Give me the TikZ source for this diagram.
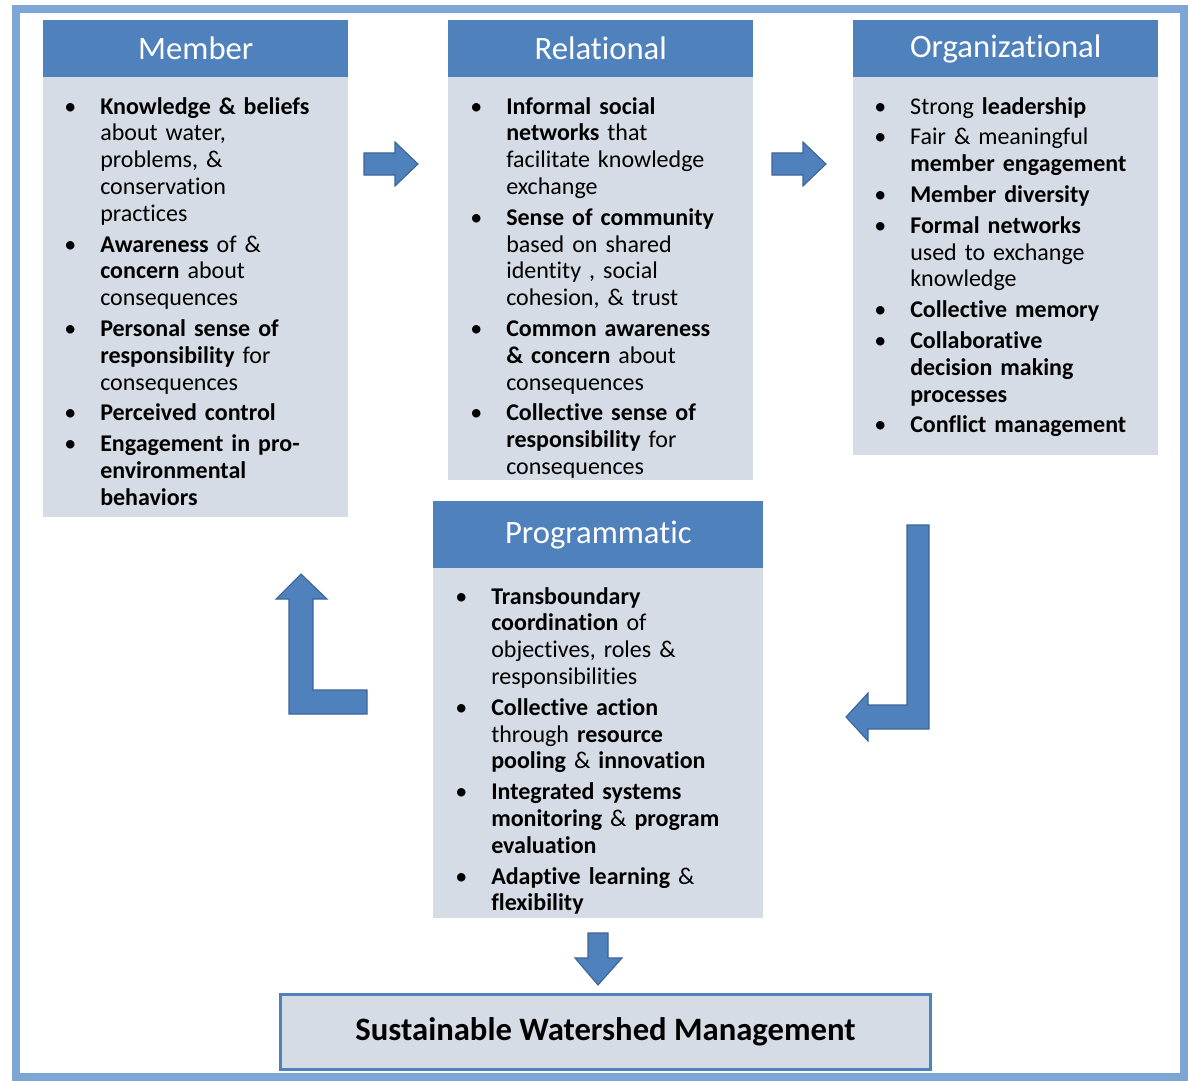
\documentclass[tikz,border=0pt]{standalone}
\usepackage{fontspec}
\setmainfont{Carlito}[Ligatures=NoCommon]
\usepackage{xcolor}
\definecolor{headblue}{RGB}{79,129,189}
\definecolor{bodygray}{RGB}{214,220,229}
\definecolor{frameblue}{RGB}{125,166,212}
\definecolor{edgeblue}{RGB}{60,100,150}
\newcommand{\bitem}{\par\noindent\hangindent=27pt\hangafter=1\makebox[27pt][l]{\textbullet}}
\newcommand{\nl}{\newline}

\begin{document}
\begin{tikzpicture}[x=0.75pt,y=-0.75pt,
  head/.style={fill=headblue, text=white, anchor=north west, inner sep=0pt,
    font=\fontsize{24.5}{28}\selectfont},
  body/.style={fill=bodygray, anchor=north west, inner sep=0pt},
  list/.style={anchor=north west, inner sep=0pt, text width=215pt, align=left,
    font=\fontsize{18}{20.1}\selectfont\setlength{\parskip}{3pt}},
  blockarrow/.style={fill=headblue, draw=edgeblue, line width=0.8pt}]
\useasboundingbox (0,0) rectangle (1190,1081);
\draw[frameblue, line width=6pt] (16,9) rectangle (1184,1077);

 \begin{scope}[every node/.style={head, minimum width=305*0.75pt, minimum height=57*0.75pt}]
  \node (memhead) at (43,20) {Member};
  \node (relhead) at (448,20) {Relational};
  \node (orghead) at (853,20) {Organizational};
 \end{scope}
  \node[head, minimum width=330*0.75pt, minimum height=67*0.75pt] (proghead) at (433,501) {Programmatic};
 \begin{scope}[every node/.style={body, minimum width=305*0.75pt}]
  \node[minimum height=440*0.75pt] (mem) at (43,77) {};
  \node[minimum height=403*0.75pt] (rel) at (448,77) {};
  \node[minimum height=378*0.75pt] (org) at (853,77) {};
 \end{scope}
  \node[body, minimum width=330*0.75pt, minimum height=350*0.75pt] (prog) at (433,568) {};

  \node[list] (memtxt) at ([shift={(21,6)}]mem.north west) {%
    \bitem\textbf{Knowledge \& beliefs}\nl about water,\nl problems, \&\nl conservation\nl practices
    \bitem\textbf{Awareness} of \&\nl\textbf{concern} about\nl consequences
    \bitem\textbf{Personal sense of}\nl\textbf{responsibility} for\nl consequences
    \bitem\textbf{Perceived control}
    \bitem\textbf{Engagement in pro-}\nl\textbf{environmental}\nl\textbf{behaviors}\par};
  \node[list] (reltxt) at ([shift={(22,6)}]rel.north west) {%
    \bitem\textbf{Informal social}\nl\textbf{networks} that\nl facilitate knowledge\nl exchange
    \bitem\textbf{Sense of community}\nl based on shared\nl identity , social\nl cohesion, \& trust
    \bitem\textbf{Common awareness}\nl\textbf{\& concern} about\nl consequences
    \bitem\textbf{Collective sense of}\nl\textbf{responsibility} for\nl consequences\par};
  \node[list] (orgtxt) at ([shift={(21,6)}]org.north west) {%
    \bitem Strong \textbf{leadership}
    \bitem Fair \& meaningful\nl\textbf{member engagement}
    \bitem\textbf{Member diversity}
    \bitem\textbf{Formal networks}\nl used to exchange\nl knowledge
    \bitem\textbf{Collective memory}
    \bitem\textbf{Collaborative}\nl\textbf{decision making}\nl\textbf{processes}
    \bitem\textbf{Conflict management}\par};
  \node[list] (progtxt) at ([shift={(22,5)}]prog.north west) {%
    \bitem\textbf{Transboundary}\nl\textbf{coordination} of\nl objectives, roles \&\nl responsibilities
    \bitem\textbf{Collective action}\nl through \textbf{resource}\nl\textbf{pooling} \& \textbf{innovation}
    \bitem\textbf{Integrated systems}\nl\textbf{monitoring} \& \textbf{program}\nl\textbf{evaluation}
    \bitem\textbf{Adaptive learning} \&\nl\textbf{flexibility}\par};

  \node[fill=bodygray, draw=headblue, line width=2.2pt, anchor=north west, inner sep=0pt,
    minimum width=650*0.75pt, minimum height=75*0.75pt,
    font=\fontsize{24.5}{28}\selectfont\bfseries] (swm) at (279,993) {Sustainable Watershed Management};

  \draw[blockarrow] (364,153) -- (395,153) -- (395,142) -- (418,164) -- (395,186) -- (395,175) -- (364,175) -- cycle;
  \draw[blockarrow] (772,153) -- (803,153) -- (803,142) -- (826,164) -- (803,186) -- (803,175) -- (772,175) -- cycle;
  \draw[blockarrow] (907,525) -- (929,525) -- (929,729) -- (868,729) -- (868,741) -- (846,717)
    -- (868,693) -- (868,705) -- (907,705) -- cycle;
  \draw[blockarrow] (301,574) -- (327,599) -- (313,599) -- (313,690) -- (367,690) -- (367,714)
    -- (289,714) -- (289,599) -- (276,599) -- cycle;
  \draw[blockarrow] (588,933) -- (608,933) -- (608,958) -- (622,958) -- (598,985) -- (575,958)
    -- (588,958) -- cycle;
\end{tikzpicture}
\end{document}
